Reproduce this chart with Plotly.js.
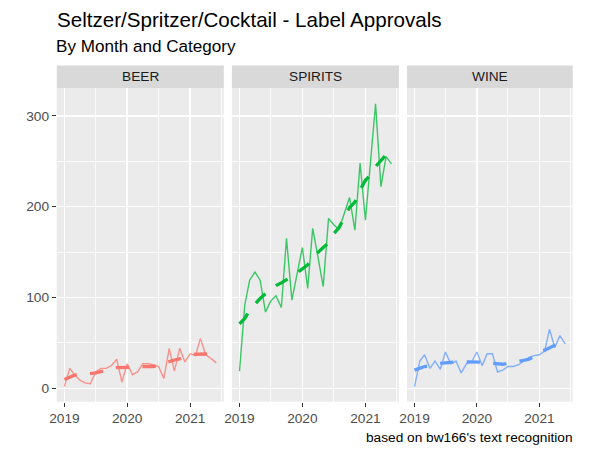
<!DOCTYPE html>
<html>
<head>
<meta charset="utf-8">
<script src="https://cdn.plot.ly/plotly-3.0.1.min.js"></script>
<style>
  html, body { margin: 0; padding: 0; background: #ffffff; }
  #chart { width: 602px; height: 453px; }
</style>
</head>
<body>
<div id="chart"></div>
<script>
// Monthly label approvals, Jan 2019 - Jun 2021
const months = [
  '2019-01-01','2019-02-01','2019-03-01','2019-04-01','2019-05-01','2019-06-01',
  '2019-07-01','2019-08-01','2019-09-01','2019-10-01','2019-11-01','2019-12-01',
  '2020-01-01','2020-02-01','2020-03-01','2020-04-01','2020-05-01','2020-06-01',
  '2020-07-01','2020-08-01','2020-09-01','2020-10-01','2020-11-01','2020-12-01',
  '2021-01-01','2021-02-01','2021-03-01','2021-04-01','2021-05-01','2021-06-01'
];

const categories = ['BEER', 'SPIRITS', 'WINE'];
const colors = ['#F8766D', '#00BA38', '#619CFF'];

const beer    = [2, 22, 15, 9, 6, 5, 18, 22, 22, 25, 32, 7, 27, 15, 18, 27, 27, 26, 24, 11, 44, 19, 44, 29, 38, 36, 55, 37, 33, 28];
const spirits = [19, 92, 119, 128, 119, 84, 96, 102, 89, 165, 97, 126, 155, 110, 176, 144, 112, 187, 180, 175, 192, 210, 174, 248, 185, 249, 313, 222, 255, 247];
const wine    = [2, 30, 37, 22, 30, 21, 40, 27, 30, 17, 27, 29, 40, 25, 38, 38, 18, 20, 24, 24, 26, 30, 34, 36, 37, 41, 65, 45, 58, 49];

// Smoothed trend for each category
const beerTrend    = [9.7, 12, 14.5, 15, 15.5, 15.8, 17, 18.5, 19.5, 21, 22.7, 22.7, 22.7, 23, 23.5, 23.8, 23.8, 23.8, 26, 28, 30, 31.2, 32.5, 35, 37, 37.5, 37.7, 37.8, 37, 36];
const spiritsTrend = [71, 77, 86, 93, 99, 104, 108, 113, 116, 119, 123, 127, 132, 136, 144, 150, 155, 160, 170, 177, 188, 199, 205, 218, 229, 235, 244, 251, 257, 260];
const wineTrend    = [20, 22, 24, 25, 26.5, 27.5, 28, 29, 29.2, 29.4, 29.4, 29.4, 29.4, 29, 28.5, 27.5, 27, 26.5, 27.5, 28.5, 29.4, 31, 32, 35, 40, 42, 44.5, 47.5, 50, 51];

const yTickValues = [0, 100, 200, 300];

const rawSeries = [beer, spirits, wine];
const trendSeries = [beerTrend, spiritsTrend, wineTrend];

// Panel geometry (pixels, converted to paper fractions below)
const W = 602, H = 453;
const panelX = [[56.8, 223.8], [231.9, 399.0], [407.0, 572.7]];
const panelTop = 88, panelBottom = 401.7, stripTop = 65.5;
const yDomain = [1 - panelBottom / H, 1 - panelTop / H];
const FONT = 'Liberation Sans, Arial, sans-serif';

const traces = [];
categories.forEach((cat, i) => {
  const ax = i === 0 ? '' : String(i + 1);
  traces.push({
    x: months, y: rawSeries[i], type: 'scatter', mode: 'lines',
    xaxis: 'x' + ax, yaxis: 'y' + ax,
    line: { color: colors[i], width: 1.4 },
    opacity: 0.75, hoverinfo: 'skip', name: cat
  });
  traces.push({
    x: months, y: trendSeries[i], type: 'scatter', mode: 'lines',
    xaxis: 'x' + ax, yaxis: 'y' + ax,
    line: { color: colors[i], width: 3.3, dash: '13.3px,13.3px' },
    hoverinfo: 'skip', name: cat + ' trend'
  });
});

const tickFont = { family: FONT, size: 13.7, color: '#4D4D4D' };

function xAxis(i) {
  return {
    domain: [panelX[i][0] / W, panelX[i][1] / W],
    anchor: i === 0 ? 'y' : 'y' + (i + 1),
    type: 'date',
    range: ['2018-11-18', '2021-07-15'],
    tick0: '2019-01-01', dtick: 'M12', tickformat: '%Y',
    ticks: 'outside', ticklen: 4, tickwidth: 1.1, tickcolor: '#333333',
    tickfont: tickFont,
    showgrid: true, gridcolor: '#FFFFFF', gridwidth: 1.6,
    minor: { tick0: '2019-01-01', dtick: 'M6', showgrid: true, gridcolor: '#FFFFFF', gridwidth: 0.8, ticks: '' },
    zeroline: false, showline: false, fixedrange: true
  };
}

function yAxis(i) {
  return {
    domain: yDomain,
    anchor: i === 0 ? 'x' : 'x' + (i + 1),
    range: [-14.7, 330.5],
    tickvals: yTickValues,
    ticktext: yTickValues.map(String),
    showticklabels: i === 0,
    ticks: i === 0 ? 'outside' : '',
    ticklen: 4, tickwidth: 1.1, tickcolor: '#333333',
    tickfont: tickFont,
    showgrid: true, gridcolor: '#FFFFFF', gridwidth: 1.6,
    minor: { tick0: 50, dtick: 100, showgrid: true, gridcolor: '#FFFFFF', gridwidth: 0.8, ticks: '' },
    zeroline: false, showline: false, fixedrange: true
  };
}

// Facet strips
const shapes = categories.map((cat, i) => ({
  type: 'rect', xref: 'paper', yref: 'paper',
  x0: panelX[i][0] / W, x1: panelX[i][1] / W,
  y0: 1 - panelTop / H, y1: 1 - stripTop / H,
  fillcolor: '#D9D9D9', line: { width: 0 }, layer: 'below'
}));

const annotations = categories.map((cat, i) => ({
  text: cat, xref: 'paper', yref: 'paper', showarrow: false,
  x: (panelX[i][0] + panelX[i][1]) / 2 / W, y: 1 - 76.8 / H,
  xanchor: 'center', yanchor: 'middle',
  font: { family: FONT, size: 13.7, color: '#1A1A1A' }
}));

annotations.push({
  text: 'By Month and Category', xref: 'paper', yref: 'paper', showarrow: false,
  x: 54 / W, y: 1 - 47 / H, xanchor: 'left', yanchor: 'middle',
  font: { family: FONT, size: 17.1, color: '#000000' }
});

annotations.push({
  text: "based on bw166's text recognition", xref: 'paper', yref: 'paper', showarrow: false,
  x: 575 / W, y: 1 - 437 / H, xanchor: 'right', yanchor: 'middle',
  font: { family: FONT, size: 13.7, color: '#000000' }
});

const layout = {
  width: W, height: H,
  margin: { l: 0, r: 0, t: 0, b: 0, pad: 0 },
  paper_bgcolor: '#FFFFFF',
  plot_bgcolor: '#EBEBEB',
  showlegend: false,
  font: { family: FONT, color: '#4D4D4D' },
  title: {
    text: 'Seltzer/Spritzer/Cocktail - Label Approvals',
    x: 57 / W, xanchor: 'left', xref: 'paper',
    y: 1 - 20 / H, yanchor: 'middle', yref: 'paper',
    font: { family: FONT, size: 20.6, color: '#000000' }
  },
  xaxis: xAxis(0), xaxis2: xAxis(1), xaxis3: xAxis(2),
  yaxis: yAxis(0), yaxis2: yAxis(1), yaxis3: yAxis(2),
  shapes: shapes,
  annotations: annotations
};

Plotly.newPlot('chart', traces, layout, { displayModeBar: false, staticPlot: true });
</script>
</body>
</html>
